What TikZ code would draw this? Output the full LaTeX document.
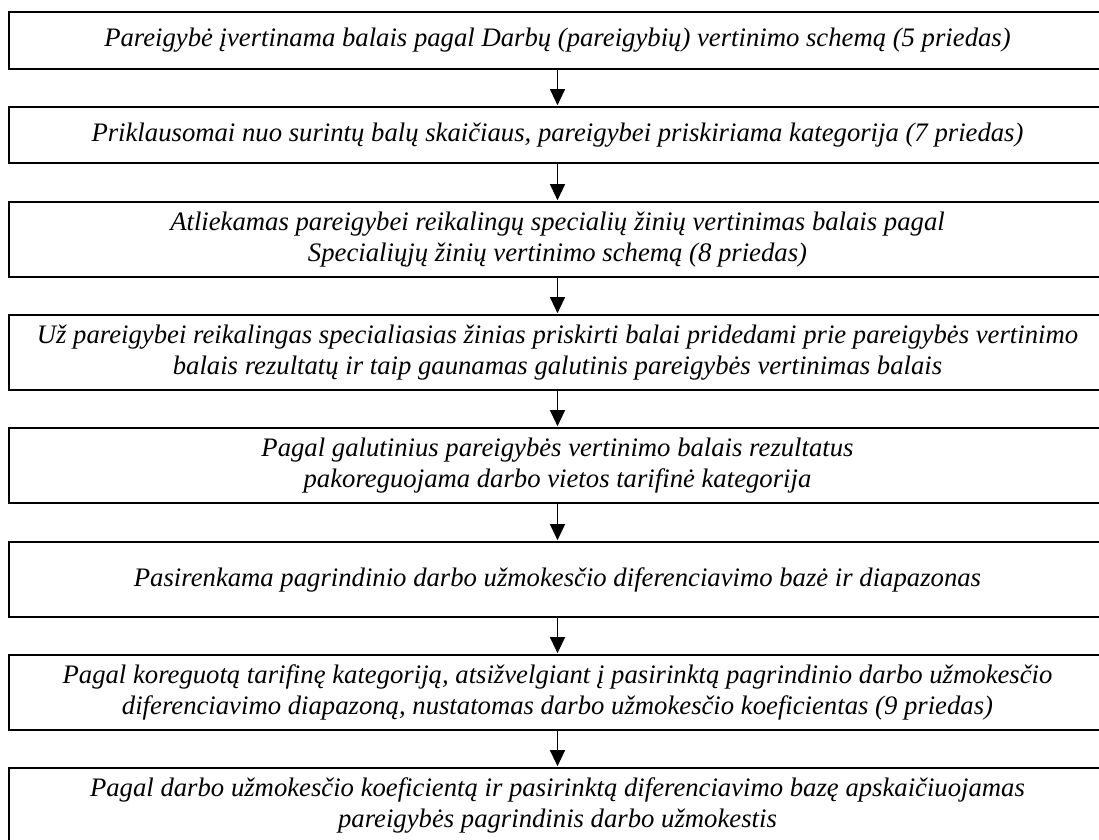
\documentclass[tikz,border=0pt]{standalone}
\usepackage{fontspec}
\setmainfont{Liberation Serif}
\usetikzlibrary{arrows.meta}
\tikzset{
  stepbox/.style={draw=black, line width=2.5pt, rectangle, minimum width=1097pt,
    inner sep=0pt, align=center, font=\fontsize{26.7}{30.5}\selectfont\itshape},
  flow/.style={line width=1.3pt, -{Triangle[width=15pt,length=16pt]}, shorten >=0.6pt}
}
\begin{document}
\begin{tikzpicture}[x=1pt,y=-1pt]
\useasboundingbox (0,0) rectangle (1099,839);
\begin{scope}
\clip (0,0) rectangle (1099,839);
\node[stepbox, minimum height=57pt] (b1) at (557.5,40.5) {Pareigybė įvertinama balais pagal Darbų (pareigybių) vertinimo schemą (5 priedas)};
\node[stepbox, minimum height=56pt] (b2) at (557.5,135) {Priklausomai nuo surintų balų skaičiaus, pareigybei priskiriama kategorija (7 priedas)};
\node[stepbox, minimum height=75pt] (b3) at (557.5,239.5) {Atliekamas pareigybei reikalingų specialių žinių vertinimas balais pagal\\Specialiųjų žinių vertinimo schemą (8 priedas)};
\node[stepbox, minimum height=75pt] (b4) at (557.5,352.5) {Už pareigybei reikalingas specialiasias žinias priskirti balai pridedami prie pareigybės vertinimo\\balais rezultatų ir taip gaunamas galutinis pareigybės vertinimas balais};
\node[stepbox, minimum height=75pt] (b5) at (557.5,465.5) {Pagal galutinius pareigybės vertinimo balais rezultatus\\pakoreguojama darbo vietos tarifinė kategorija};
\node[stepbox, minimum height=75pt] (b6) at (557.5,579.5) {Pasirenkama pagrindinio darbo užmokesčio diferenciavimo bazė ir diapazonas};
\node[stepbox, minimum height=75pt] (b7) at (557.5,692.5) {Pagal koreguotą tarifinę kategoriją, atsižvelgiant į pasirinktą pagrindinio darbo užmokesčio\\diferenciavimo diapazoną, nustatomas darbo užmokesčio koeficientas (9 priedas)};
\node[stepbox, minimum height=75pt] (b8) at (557.5,805.5) {Pagal darbo užmokesčio koeficientą ir pasirinktą diferenciavimo bazę apskaičiuojamas\\pareigybės pagrindinis darbo užmokestis};
\draw[flow] (b1.south) -- (b2.north);
\draw[flow] (b2.south) -- (b3.north);
\draw[flow] (b3.south) -- (b4.north);
\draw[flow] (b4.south) -- (b5.north);
\draw[flow] (b5.south) -- (b6.north);
\draw[flow] (b6.south) -- (b7.north);
\draw[flow] (b7.south) -- (b8.north);
\end{scope}
\end{tikzpicture}
\end{document}
